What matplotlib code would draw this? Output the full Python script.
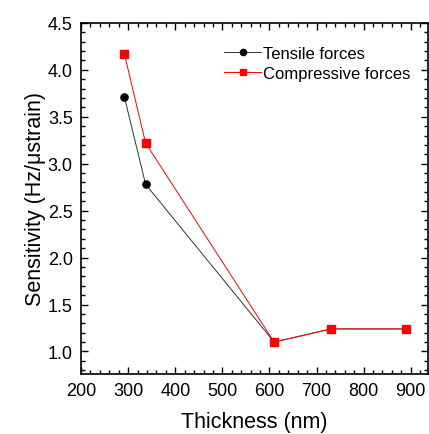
import matplotlib
matplotlib.use("Agg")
import matplotlib.pyplot as plt
from matplotlib.ticker import MultipleLocator

plt.rcParams["font.family"] = ["Liberation Sans", "DejaVu Sans"]

# film thickness and measured sensitivity
thickness = [292, 337, 610, 731, 891]
tensile = [3.71, 2.78, 1.10, 1.24, 1.24]
compressive = [4.17, 3.22, 1.10, 1.24, 1.24]

fig = plt.figure(figsize=(4.29, 4.35), dpi=100)
ax = fig.add_axes([0.189, 0.138, 0.809, 0.807])

ax.plot(thickness, tensile, color="#333333", lw=0.7, marker="o", ms=5.2,
        mfc="black", mec="black", label="Tensile forces")
ax.plot(thickness, compressive, color="red", lw=0.7, marker="s", ms=5.3,
        mfc="red", mec="red", label="Compressive forces")

ax.set_xlim(200, 937)
ax.set_ylim(0.76, 4.5)
ax.xaxis.set_major_locator(MultipleLocator(100))
ax.xaxis.set_minor_locator(MultipleLocator(20))
ax.yaxis.set_major_locator(MultipleLocator(0.5))
ax.yaxis.set_minor_locator(MultipleLocator(0.1))
ax.tick_params(which="both", direction="in", top=True, right=True, width=1)
ax.tick_params(which="major", length=5, labelsize=13, pad=6)
ax.tick_params(which="minor", length=3)
for s in ax.spines.values():
    s.set_linewidth(1.2)

ax.set_xlabel("Thickness (nm)", fontsize=15.5, labelpad=8.5)
ax.set_ylabel("Sensitivity (Hz/μstrain)", fontsize=15.5, labelpad=1)

ax.legend(loc="upper left", bbox_to_anchor=(0.37, 0.978), frameon=False,
          fontsize=12, handlelength=2.2, handletextpad=0.1,
          labelspacing=0.3, markerscale=0.85)

fig.savefig("out.png")
